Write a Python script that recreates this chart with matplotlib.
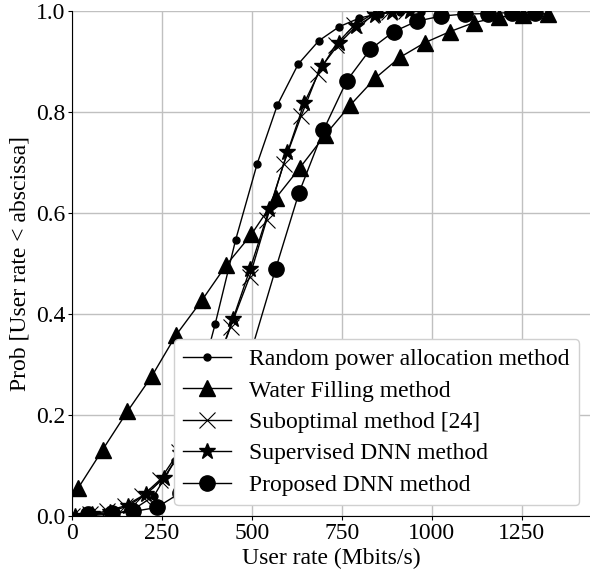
import matplotlib
matplotlib.use('Agg')
import matplotlib.pyplot as plt

plt.rcParams['font.family'] = ['Liberation Serif', 'DejaVu Serif']
plt.rcParams['font.size'] = 17

# CDF of user rate for each method
random_x = [0, 57, 114, 171, 228, 285, 342, 398, 455, 515, 571, 629, 686, 743, 799, 855, 912, 969, 1026]
random_y = [0.0, 0.001, 0.004, 0.013, 0.04, 0.108, 0.23, 0.38, 0.547, 0.698, 0.814, 0.895, 0.941,
            0.969, 0.986, 0.995, 0.998, 0.999, 1.0]

water_x = [17, 85, 154, 222, 289, 362, 429, 499, 566, 634, 703, 774, 843, 911, 980, 1050, 1117, 1187, 1255, 1323]
water_y = [0.055, 0.131, 0.207, 0.277, 0.358, 0.428, 0.497, 0.558, 0.629, 0.690, 0.754, 0.814, 0.867,
           0.908, 0.937, 0.959, 0.977, 0.988, 0.992, 0.995]

subopt_x = [0, 49, 98, 147, 196, 245, 297, 343, 392, 441, 494, 541, 588, 637, 683, 733, 785, 831, 880, 929]
subopt_y = [0.0, 0.003, 0.01, 0.02, 0.04, 0.072, 0.127, 0.2, 0.28, 0.375, 0.474, 0.586, 0.697, 0.792,
            0.875, 0.933, 0.972, 0.992, 0.998, 1.0]

superv_x = [8, 57, 106, 155, 206, 255, 300, 350, 397, 448, 495, 548, 599, 645, 695, 743, 790, 841, 890, 940]
superv_y = [0.0, 0.003, 0.008, 0.02, 0.043, 0.075, 0.125, 0.2, 0.29, 0.391, 0.489, 0.607, 0.72, 0.817,
            0.891, 0.936, 0.97, 0.992, 0.998, 1.0]

prop_x = [45, 110, 171, 236, 299, 367, 433, 501, 566, 631, 699, 764, 829, 894, 959, 1027, 1092, 1157, 1222, 1287]
prop_y = [0.003, 0.005, 0.009, 0.017, 0.045, 0.11, 0.21, 0.333, 0.489, 0.64, 0.764, 0.862, 0.924,
          0.959, 0.98, 0.99, 0.994, 0.995, 0.997, 0.997]

fig = plt.figure(figsize=(5.9, 5.71), dpi=100)
ax = fig.add_axes([0.122, 0.0963, 0.878, 0.8844])

ax.plot(random_x, random_y, 'k-', marker='o', ms=5, lw=1.0, label='Random power allocation method')
ax.plot(water_x, water_y, 'k-', marker='^', ms=11.5, lw=1.0, label='Water Filling method')
ax.plot(subopt_x, subopt_y, 'k-', marker='x', ms=11, mew=0.8, lw=1.0, label='Suboptimal method [24]')
ax.plot(superv_x, superv_y, 'k-', marker='*', ms=12, lw=1.0, label='Supervised DNN method')
ax.plot(prop_x, prop_y, 'k-', marker='o', ms=11, lw=1.0, label='Proposed DNN method')

ax.set_xlim(0, 1440)
ax.set_ylim(0, 1.0)
ax.set_xticks([0, 250, 500, 750, 1000, 1250])
ax.set_yticks([0.0, 0.2, 0.4, 0.6, 0.8, 1.0])
ax.grid(True, color='#c0c0c0', lw=1.0)
ax.set_axisbelow(True)
for s in ['top', 'right']:
    ax.spines[s].set_visible(False)
for s in ['left', 'bottom']:
    ax.spines[s].set_color('black')
ax.tick_params(length=3, width=0.8, pad=2)

ax.set_xlabel('User rate (Mbits/s)', labelpad=3)
ax.set_ylabel('Prob [User rate < abscissa]', labelpad=4)
ax.legend(loc='lower right', fontsize=17, labelspacing=0.42, borderaxespad=0.45,
          framealpha=1.0, edgecolor='#d0d0d0')

fig.savefig('out.png', dpi=100)
